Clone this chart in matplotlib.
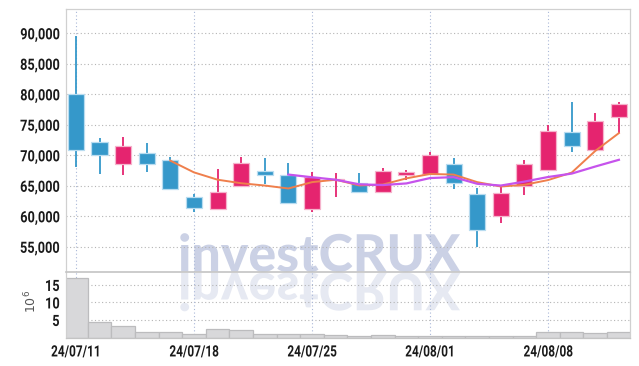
import matplotlib
matplotlib.use('Agg')
import matplotlib.pyplot as plt
import numpy as np
from matplotlib.patheffects import AbstractPathEffect
from matplotlib.transforms import Affine2D

# ---------------- data ----------------
dates = ['24/07/11', '24/07/12', '24/07/15', '24/07/16', '24/07/17', '24/07/18',
         '24/07/19', '24/07/22', '24/07/23', '24/07/24', '24/07/25', '24/07/26',
         '24/07/29', '24/07/30', '24/07/31', '24/08/01', '24/08/02', '24/08/05',
         '24/08/06', '24/08/07', '24/08/08', '24/08/09', '24/08/12', '24/08/13']
opens = [80000, 72100, 68600, 70300, 69200, 63200, 61200, 64900, 67500, 66700, 61200, 65900,
         65400, 64000, 66800, 67000, 68600, 63600, 60000, 65000, 67600, 73800, 70900, 76300]
highs = [89600, 72800, 73000, 72000, 69700, 63700, 67700, 69700, 69600, 68800, 67300, 67100,
         67100, 67900, 67600, 70500, 69500, 64700, 64800, 69300, 75000, 78800, 76900, 78800]
lows = [68100, 66900, 66700, 67300, 64400, 60700, 61100, 64800, 65300, 62000, 60700, 63200,
        63900, 63900, 66000, 66900, 64500, 54900, 58900, 63500, 67400, 70500, 70800, 73600]
closes = [70900, 70000, 71600, 68600, 64500, 61300, 64000, 68700, 66700, 62100, 66500, 66000,
          64000, 67400, 67200, 70100, 65500, 57800, 63800, 68600, 74000, 71600, 75600, 78400]
volume_millions = [17.0, 4.4, 3.2, 1.6, 1.6, 0.9, 2.4, 2.1, 0.9, 0.9, 0.9, 0.6,
                   0.3, 0.6, 0.3, 0.5, 0.5, 0.5, 0.5, 0.5, 1.5, 1.5, 1.2, 1.5]
ma5 = [np.nan] * 4 + [69120, 67200, 66000, 65420, 65040, 64560, 65600, 66000, 65060, 65200,
                      66220, 66940, 66840, 65600, 64880, 65160, 65940, 67160, 70720, 73640]
ma10 = [np.nan] * 9 + [66840, 66400, 66000, 65240, 65120, 65390, 66270, 66420, 65330, 65040,
                       65690, 66440, 67000, 68160, 69260]
tick_dates = ['24/07/11', '24/07/18', '24/07/25', '24/08/01', '24/08/08']
price_ticks = [55000, 60000, 65000, 70000, 75000, 80000, 85000, 90000]
volume_ticks = [5, 10, 15]
watermark = 'investCRUX'


# ---------------- helpers ----------------
class Squash(AbstractPathEffect):
    """Scale glyph outlines of a real Text around an anchor (condensed look / reflection)."""

    def __init__(self, sx=1.0, sy=1.0, anchor='left', dy=0.0, width_px=None):
        super().__init__()
        self.sx, self.sy, self.anchor, self.dy, self.width_px = sx, sy, anchor, dy, width_px

    def draw_path(self, renderer, gc, tpath, affine, rgbFace=None):
        ext = tpath.get_extents()
        axx = {'left': ext.x0, 'center': 0.5 * (ext.x0 + ext.x1), 'right': ext.x1}[self.anchor]
        ox, oy = affine.transform((axx, 0))
        sx = self.sx
        if self.width_px is not None:
            x0 = affine.transform((ext.x0, 0))[0]
            x1 = affine.transform((ext.x1, 0))[0]
            sx = self.width_px / max(x1 - x0, 1e-6)
        t = affine + Affine2D().translate(-ox, -oy).scale(sx, self.sy).translate(ox, oy + self.dy)
        renderer.draw_path(gc, tpath, t, rgbFace)


UP = '#e5246f'
DOWN = '#3598ca'
UP_EDGE = '#f5b3cc'
DOWN_EDGE = '#b8dcf0'
TICK_FONT = ['Roboto', 'DejaVu Sans']

W, H = 639, 366
fig = plt.figure(figsize=(W / 100, H / 100), dpi=100)
fig.patch.set_facecolor('white')

L, R = 66, 630
T, MID, B = 9, 272, 337.5
ax = fig.add_axes([L / W, (H - MID) / H, (R - L) / W, (MID - T) / H])
axv = fig.add_axes([L / W, (H - B) / H, (R - L) / W, (B - MID) / H], sharex=ax)
for a in (ax, axv):
    a.set_facecolor('none')

x = np.arange(len(dates))
is_up = np.array(closes) >= np.array(opens)
colors = [UP if u else DOWN for u in is_up]
edges = [UP_EDGE if u else DOWN_EDGE for u in is_up]
bottoms = np.minimum(opens, closes)
heights = np.maximum(np.abs(np.array(closes) - np.array(opens)), 150)

ax.vlines(x, lows, highs, colors=colors, linewidth=1.3, zorder=2)
ax.bar(x, heights, bottom=bottoms, width=0.68, color=colors, edgecolor=edges,
       linewidth=0.9, zorder=3)
ax.plot(x, ma5, color='#ef7f4c', linewidth=1.4, zorder=4)
ax.plot(x, ma10, color='#c653ec', linewidth=1.6, zorder=4)

axv.bar(x, volume_millions, width=1.0, color='#d8d8da', edgecolor='#bcbcbe',
        linewidth=0.9, zorder=2)

# axes limits
ax.set_xlim(-0.42, 23.47)
ax.set_ylim(50870, 93980)
axv.set_ylim(0, 18.7)

# ticks
tick_idx = [dates.index(d) for d in tick_dates]
axv.set_xticks(tick_idx)
axv.set_xticklabels(tick_dates)
ax.tick_params(axis='x', labelbottom=False, length=0)
ax.set_yticks(price_ticks)
ax.set_yticklabels([f'{v:,}' for v in price_ticks])
axv.set_yticks(volume_ticks)
axv.set_yticklabels([str(v) for v in volume_ticks])
for a in (ax, axv):
    a.tick_params(axis='y', length=0, pad=4.5, colors='#1a1a1a')
    for lab in a.get_yticklabels():
        lab.set_fontfamily(TICK_FONT)
        lab.set_fontweight('bold')
        lab.set_fontsize(11.2)
        lab.set_path_effects([Squash(sx=0.82, anchor='right')])
axv.tick_params(axis='x', length=0, pad=5.0, colors='#1a1a1a')
for lab in axv.get_xticklabels():
    lab.set_fontfamily(TICK_FONT)
    lab.set_fontweight('bold')
    lab.set_fontsize(11.2)
    lab.set_path_effects([Squash(sx=0.76, anchor='center')])

# grids
for a in (ax, axv):
    a.grid(axis='y', color='#b4b4b4', linestyle=(0, (1, 2.2)), linewidth=0.8, zorder=1)
    a.set_axisbelow(True)
    for xi in tick_idx:
        a.axvline(xi, color='#aab8d8', linestyle=(0, (1, 2.2)), linewidth=0.8, zorder=1)

for a in (ax, axv):
    for s in a.spines.values():
        s.set_color('#d0d0d0')
        s.set_linewidth(0.9)
ax.spines['bottom'].set_visible(False)
axv.spines['top'].set_color('#c4c4c4')
axv.spines['top'].set_linewidth(1.2)
axv.spines['bottom'].set_color('#c4c4c4')

fig.text(31 / W, 1 - 301 / H, r'$10^6$', rotation=90, ha='center', va='center',
         fontsize=9, color='#555555')

# watermark with its reflection (real text, outlines fitted / mirrored at draw time)
wm_x = 178 / W
wm_y = 1 - MID / H
WM_FONT = ['Lato', 'DejaVu Sans']
fig.text(wm_x, wm_y + 0.5 / H, watermark, ha='left', va='baseline', fontsize=37,
         fontweight='black', family=WM_FONT, color='#cbd1e5', zorder=-1,
         path_effects=[Squash(anchor='left', width_px=280)])
fig.text(wm_x, wm_y + 0.5 / H, watermark, ha='left', va='baseline', fontsize=37,
         fontweight='black', family=WM_FONT, color='#e6e9f2', zorder=-1,
         path_effects=[Squash(sy=-1.0, anchor='left', dy=-1.5, width_px=280)])

fig.savefig('out.png', dpi=100)
